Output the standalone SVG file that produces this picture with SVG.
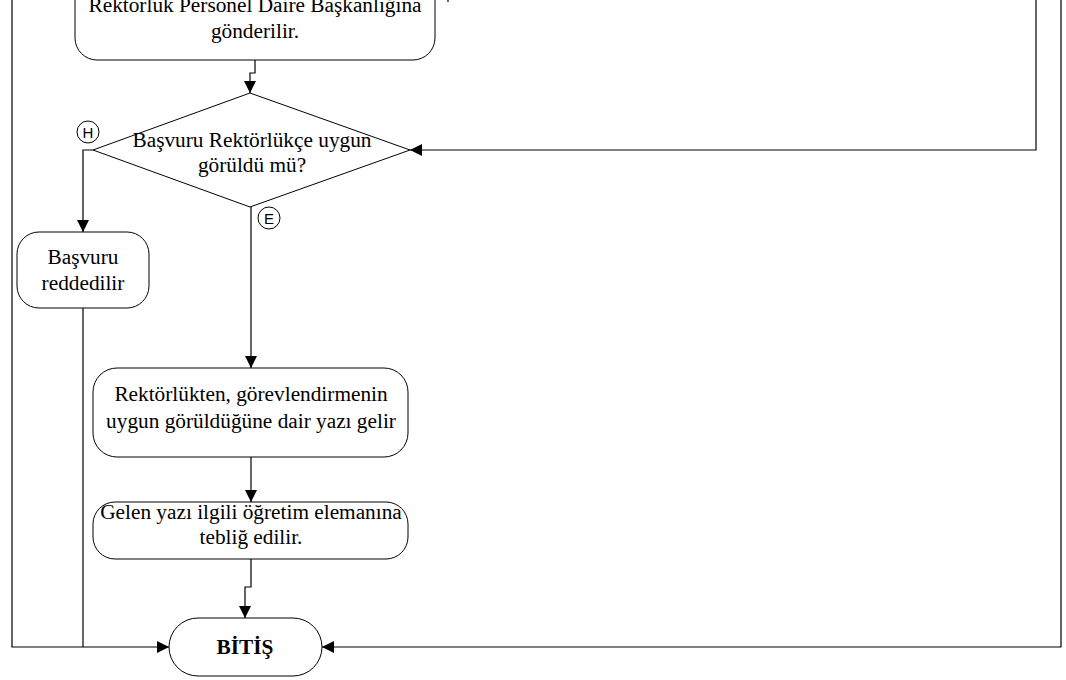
<svg xmlns="http://www.w3.org/2000/svg" width="1066" height="680" viewBox="0 0 1066 680">
  <defs>
    <marker id="arrow" viewBox="0 0 12 12" refX="12" refY="6" markerWidth="12" markerHeight="12" markerUnits="userSpaceOnUse" orient="auto">
      <path d="M0,0 L12,6 L0,12 Z" fill="#000"/>
    </marker>
    <style>
      .shape { fill: #fff; stroke: #000; stroke-width: 1; }
      .conn { fill: none; stroke: #000; stroke-width: 1.2; }
      .lbl { font-family: "Liberation Serif", "Times New Roman", serif; font-size: 21.3px; fill: #000; text-anchor: middle; }
      .bold { font-weight: bold; }
      .tag { font-family: "Liberation Sans", Arial, sans-serif; font-size: 15px; fill: #000; text-anchor: middle; }
    </style>
  </defs>
  <rect width="1066" height="680" fill="#fff"/>

  <!-- connectors -->
  <g id="connectors">
    <path class="conn" d="M255,60 V73 H250 V93" marker-end="url(#arrow)"/>
    <path class="conn" d="M93,150 H83 V232" marker-end="url(#arrow)"/>
    <path class="conn" d="M251,207 V368" marker-end="url(#arrow)"/>
    <path class="conn" d="M251,457 V502" marker-end="url(#arrow)"/>
    <path class="conn" d="M251,559 V587 H245 V618" marker-end="url(#arrow)"/>
    <path class="conn" d="M1036,0 V150 H410" marker-end="url(#arrow)"/>
    <path class="conn" d="M12,0 V647 H169" marker-end="url(#arrow)"/>
    <path class="conn" d="M83,308 V647"/>
    <path class="conn" d="M1061,0 V647 H322" marker-end="url(#arrow)"/>
    <path class="conn" d="M448,0 V2"/>
  </g>

  <g id="n-personel">
    <rect class="shape" x="75" y="-40" width="360" height="100" rx="22"/>
    <text class="lbl" x="255" y="12">Rektörlük Personel Daire Başkanlığına</text>
    <text class="lbl" x="255" y="38">gönderilir.</text>
  </g>

  <g id="n-karar">
    <path class="shape" d="M250,93 L410,150 L250,207 L93,150 Z"/>
    <text class="lbl" x="252" y="147">Başvuru Rektörlükçe uygun</text>
    <text class="lbl" x="252" y="172">görüldü mü?</text>
    <circle class="shape" cx="88" cy="132" r="11"/>
    <text class="tag" x="88" y="137.5">H</text>
    <circle class="shape" cx="269" cy="218" r="11"/>
    <text class="tag" x="269" y="223.5">E</text>
  </g>

  <g id="n-red">
    <rect class="shape" x="17" y="232" width="132" height="76" rx="22"/>
    <text class="lbl" x="83" y="264">Başvuru</text>
    <text class="lbl" x="83" y="290">reddedilir</text>
  </g>

  <g id="n-uygun">
    <rect class="shape" x="93" y="368" width="315" height="89" rx="24"/>
    <text class="lbl" x="251" y="401">Rektörlükten, görevlendirmenin</text>
    <text class="lbl" x="251" y="428">uygun görüldüğüne dair yazı gelir</text>
  </g>

  <g id="n-teblig">
    <rect class="shape" x="93" y="502" width="315" height="57" rx="22"/>
    <text class="lbl" x="251" y="519">Gelen yazı ilgili öğretim elemanına</text>
    <text class="lbl" x="251" y="544">tebliğ edilir.</text>
  </g>

  <g id="n-bitis">
    <rect class="shape" x="169" y="618" width="153" height="58" rx="29"/>
    <text class="lbl bold" x="245" y="654">BİTİŞ</text>
  </g>
</svg>
